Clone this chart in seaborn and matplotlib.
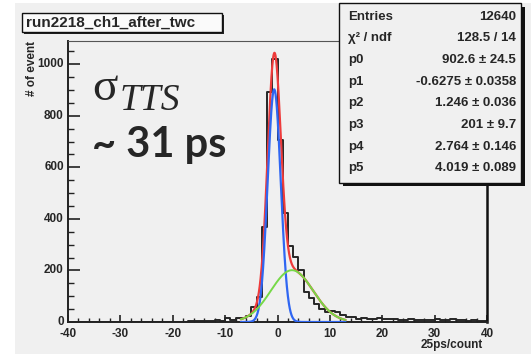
import numpy as np
import pandas as pd
import matplotlib
matplotlib.use("Agg")
import matplotlib.pyplot as plt
from matplotlib.patches import Rectangle
from matplotlib.ticker import MultipleLocator
import matplotlib.transforms as mtransforms
import seaborn as sns

# ---------------- data ----------------
bin_lo = list(range(-40, 40))          # lower edges of 1-unit bins
counts = ([0] * 23 +                    # -40 .. -18
          [2, 4, 3, 5, 4, 6, 5, 14, 8, 17, 17, 25, 57, 96, 368, 892,   # -17 .. -2
           1021, 707, 422, 295, 251, 202, 118, 92, 70, 49, 40, 44, 40, 27, 21,  # -1 .. 13
           18, 12, 14, 10, 12, 15, 13, 10, 12, 9, 8, 10, 8, 6, 9, 7, 10, 7, 9, 12,
           8, 6, 5, 6, 5, 4])            # 14 .. 39
fit_params = [902.6, -0.6275, 1.246, 201.0, 2.764, 4.019]   # p0..p5
fit_range = [-7.0, 13.0]

stat_labels = ["Entries", "χ² / ndf", "p0", "p1", "p2", "p3", "p4", "p5"]
stat_values = ["12640", "128.5 / 14", "902.6 ± 24.5", "-0.6275 ± 0.0358",
               "1.246 ± 0.036", "201 ± 9.7", "2.764 ± 0.146", "4.019 ± 0.089"]
title = "run2218_ch1_after_twc"
x_title = "25ps/count"
y_title = "# of event"

# ---------------- figure ----------------
W, H = 531, 354
BG = "#f0f0f0"
sns.set_theme(style="ticks")
plt.rcParams["font.family"] = ["Liberation Sans", "DejaVu Sans"]
plt.rcParams["axes.unicode_minus"] = False
fig = plt.figure(figsize=(W / 100, H / 100), dpi=100, facecolor="white")


def fx(px):
    return px / W


def fy(py):
    return 1 - py / H


fig.patches.append(Rectangle((fx(15), 0), 1 - fx(15), fy(3), transform=fig.transFigure,
                             facecolor=BG, edgecolor="none", zorder=-10))

L, R, T, B = 68, 487, 41, 322
ax = fig.add_axes([fx(L), fy(B), fx(R) - fx(L), fy(T) - fy(B)])
ax.set_facecolor(BG)

centers = np.array(bin_lo, dtype=float) + 0.5
df = pd.DataFrame({"x": centers, "w": np.array(counts, dtype=float)})
sns.histplot(data=df, x="x", weights="w", binwidth=1, binrange=(-40, 40),
             element="step", fill=False, color="#262626", linewidth=1.4, ax=ax, zorder=2)

xf = np.linspace(fit_range[0], fit_range[1], 600)
p0, p1, p2, p3, p4, p5 = fit_params
g1 = p0 * np.exp(-0.5 * ((xf - p1) / p2) ** 2)
g2 = p3 * np.exp(-0.5 * ((xf - p4) / p5) ** 2)
sns.lineplot(x=xf, y=g1 + g2, color="#ee3b3b", linewidth=1.6, ax=ax, zorder=3)
sns.lineplot(x=xf, y=g1, color="#2f66f2", linewidth=1.6, ax=ax, zorder=4)
sns.lineplot(x=xf, y=g2, color="#76d948", linewidth=1.4, ax=ax, zorder=5)

ax.set_xlim(-40, 40)
ax.set_ylim(0, 1090)
ax.xaxis.set_major_locator(MultipleLocator(10))
ax.xaxis.set_minor_locator(MultipleLocator(2))
ax.yaxis.set_major_locator(MultipleLocator(200))
ax.yaxis.set_minor_locator(MultipleLocator(50))
ax.tick_params(axis="x", which="major", direction="in", length=5.4, width=1.2,
               color="#222", pad=4.6, labelsize=8.5)
ax.tick_params(axis="x", which="minor", direction="in", length=2.7, width=1.0, color="#222")
ax.tick_params(axis="y", which="major", direction="in", length=8.6, width=1.2,
               color="#222", pad=3.0, labelsize=8.5)
ax.tick_params(axis="y", which="minor", direction="in", length=4.3, width=1.0, color="#222")
for lab in ax.get_xticklabels() + ax.get_yticklabels():
    lab.set_fontweight("bold")
# nudge y tick labels up by 1.5 px (ROOT places them slightly above the tick)
up = mtransforms.ScaledTranslation(0, 1.5 / 100, fig.dpi_scale_trans)
for lab in ax.get_yticklabels():
    lab.set_transform(lab.get_transform() + up)
for s in ["left", "bottom"]:
    ax.spines[s].set_linewidth(1.4)
    ax.spines[s].set_color("#222")
ax.spines["right"].set_linewidth(1.8)
ax.spines["right"].set_color("#111")
ax.spines["top"].set_linewidth(0.8)
ax.spines["top"].set_color("#555")

ax.set_xlabel(x_title, loc="right", fontsize=8.5, fontweight="bold")
ax.xaxis.set_label_coords((482.7 - L) / (R - L), -(345 - B) / (B - T))
ax.xaxis.label.set_va("center")
ax.set_ylabel(y_title, loc="top", fontsize=8.5, fontweight="bold")
ax.yaxis.set_label_coords(-(L - 32) / (R - L), 1.0)
ax.yaxis.label.set_va("center")

# title box
fig.patches.append(Rectangle((fx(23.5), fy(34)), fx(200), 19 / H, transform=fig.transFigure,
                             facecolor="#222", edgecolor="none", zorder=1))
fig.patches.append(Rectangle((fx(21.7), fy(32)), fx(200), 19 / H, transform=fig.transFigure,
                             facecolor="#fafafa", edgecolor="#111", linewidth=1.0, zorder=2))
fig.text(fx(26), fy(22.5), title, fontsize=11, fontweight="bold", ha="left", va="center",
         zorder=3)

# stats box
bx0, by0, bx1, by1 = 339, 3, 521, 182.5
fig.patches.append(Rectangle((fx(bx0 + 4), fy(by1 + 3.5)), fx(bx1 - bx0), (by1 - by0) / H,
                             transform=fig.transFigure, facecolor="#111", edgecolor="none",
                             zorder=5))
fig.patches.append(Rectangle((fx(bx0), fy(by1)), fx(bx1 - bx0), (by1 - by0) / H,
                             transform=fig.transFigure, facecolor=BG, edgecolor="#111",
                             linewidth=1.0, zorder=6))
row_y = np.linspace(16.5, 168.3, len(stat_labels))
for yy, lab, val in zip(row_y, stat_labels, stat_values):
    fig.text(fx(348), fy(yy), lab, fontsize=9.5, fontweight="bold", ha="left",
             va="center", zorder=7)
    fig.text(fx(516), fy(yy), val, fontsize=9.5, fontweight="bold", ha="right",
             va="center", zorder=7)

# annotation
fig.text(fx(92), fy(100), "σ", family="Liberation Serif", fontsize=34, ha="left",
         va="baseline")
fig.text(fx(120), fy(110), "TTS", family="Liberation Serif", style="italic", fontsize=27,
         ha="left", va="baseline")
fig.text(fx(92), fy(157), "~ 31 ps", family=["Lato", "Liberation Sans"], fontweight="bold",
         fontsize=30, ha="left", va="baseline")

fig.savefig("out.png", dpi=100, facecolor=fig.get_facecolor())
